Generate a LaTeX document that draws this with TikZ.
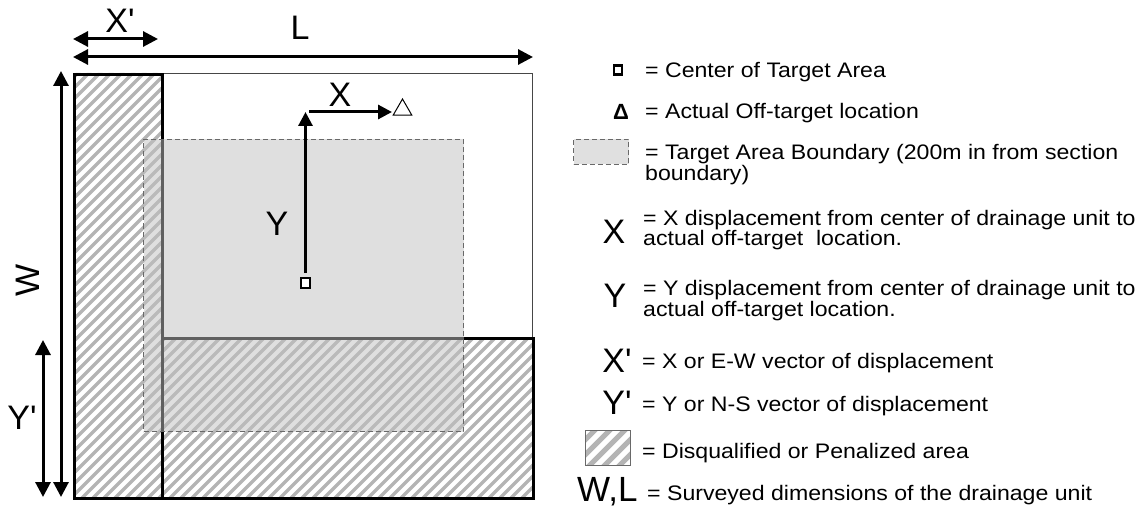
\documentclass[tikz,border=0pt]{standalone}
\usepackage{fontspec}
\setmainfont[FakeStretch=1.1]{Liberation Sans}
\newfontfamily\lblfont[Ligatures=TeXOff]{Liberation Sans}
\usetikzlibrary{arrows.meta,shapes.geometric}
\definecolor{hatchgray}{RGB}{180,180,180}
\definecolor{tgtgray}{RGB}{192,192,192}
\definecolor{lightfill}{RGB}{224,224,224}
\definecolor{dashgray}{RGB}{105,105,105}
\definecolor{framegray}{RGB}{70,70,70}
\tikzset{
  dimarrow/.style={line width=3pt, {Triangle[width=15pt,length=15pt]}-{Triangle[width=15pt,length=15pt]}},
  vecarrow/.style={line width=3pt, -{Triangle[width=14pt,length=14pt]}},
  diaglbl/.style={font=\lblfont\fontsize{34}{34}\selectfont, inner sep=0pt},
  legsym/.style={font=\lblfont\fontsize{34}{34}\selectfont, inner sep=0pt},
  legtxt/.style={font=\fontsize{21}{21}\selectfont, inner sep=0pt, anchor=base west},
  stripe/.style={hatchgray, line width=3.5pt},
  strip/.style={draw, line width=2.6pt, inner sep=0pt, anchor=north west},
  dashbox/.style={draw=dashgray, dash pattern=on 5pt off 3pt, line width=1pt, inner sep=0pt, anchor=north west},
}
\begin{document}
\begin{tikzpicture}[x=1pt,y=-1pt]
\useasboundingbox (0,0) rectangle (1146,508);
% outer frame
\node[draw=framegray, line width=1.2pt, inner sep=0pt, minimum width=459pt, minimum height=424pt, anchor=north west] (outer) at (73,73) {};
% hatching
\begin{scope}
  \clip (73,73) rectangle (161,497) (161,337) rectangle (532,497);
  \foreach \i in {-370,-359,...,530} \draw[stripe] (\i,510) -- ++(520,-520);
\end{scope}
\node[strip, minimum width=88pt, minimum height=424pt] (xstrip) at (73,73) {};
\node[strip, minimum width=371pt, minimum height=160pt] (ystrip) at (161,337) {};
% target area
\node[dashbox, fill=tgtgray, fill opacity=0.5, minimum width=320pt, minimum height=292pt] (target) at (143,139) {};
% centre and off-target
\node[draw, line width=1.8pt, fill=white, minimum width=9pt, minimum height=10pt, inner sep=0pt] (ctr) at (305.5,283) {};
\node[draw, line width=1pt, regular polygon, regular polygon sides=3, minimum size=21.4pt, inner sep=0pt] (tri) at (402.5,109.7) {};
\coordinate (ytip) at (305.5,112);
\coordinate (xstart) at (309,112);
\coordinate (xtip) at (392,112);
\draw[vecarrow] ([yshift=4pt]ctr.north) -- (ytip);
\draw[vecarrow] (xstart) -- (xtip);
\node[diaglbl] (lblX) at (340,95) {X};
\node[diaglbl] (lblY) at (277,224) {Y};
% dimension arrows
\coordinate (Lleft) at (73,57);
\coordinate (Lright) at (533,57);
\coordinate (Xpl) at (73,39);
\coordinate (Xpr) at (158,39);
\coordinate (Wtop) at (61,71);
\coordinate (Wbot) at (61,497);
\coordinate (Ypt) at (43,340);
\coordinate (Ypb) at (43,497);
\draw[dimarrow] (Lleft) -- (Lright);
\draw[dimarrow] (Xpl) -- (Xpr);
\draw[dimarrow] (Wtop) -- (Wbot);
\draw[dimarrow] (Ypt) -- (Ypb);
\node[diaglbl] (lblL) at (300,28) {L};
\node[diaglbl] (lblXp) at (120,21) {X'};
\node[diaglbl, rotate=90] (lblW) at (28,280) {W};
\node[diaglbl] (lblYp) at (22,418) {Y'};
% legend
\node[draw, line width=2.8pt, minimum width=8pt, minimum height=9pt, inner sep=0pt] (lsq) at (618,70) {};
\node[legtxt] (t1) at (645,78) {= Center of Target Area};
\node[font=\lblfont\bfseries\fontsize{22}{22}\selectfont, inner sep=0pt] (ldelta) at (621,112) {Δ};
\node[legtxt] (t2) at (645,119) {= Actual Off-target location};
\node[dashbox, fill=lightfill, minimum width=55pt, minimum height=25pt] (lbox) at (573,139) {};
\node[legtxt] (t3a) at (645,160) {= Target Area Boundary (200m in from section};
\node[legtxt] (t3b) at (645,181) {boundary)};
\node[legsym] (lX) at (614,232) {X};
\node[legtxt] (t4a) at (643,225) {= X displacement from center of drainage unit to};
\node[legtxt] (t4b) at (643,245) {actual off-target\ \ location.};
\node[legsym] (lY) at (615,296) {Y};
\node[legtxt] (t5a) at (643,295) {= Y displacement from center of drainage unit to};
\node[legtxt] (t5b) at (643,316) {actual off-target location.};
\node[legsym] (lXp) at (617,361) {X'};
\node[legtxt] (t6) at (642,368) {= X or E-W vector of displacement};
\node[legsym] (lYp) at (617,403) {Y'};
\node[legtxt] (t7) at (642,411) {= Y or N-S vector of displacement};
\begin{scope}
  \clip (585,430) rectangle (630,465);
  \foreach \i in {540,555,...,640} \draw[hatchgray, line width=5pt] (\i,470) -- ++(60,-60);
\end{scope}
\node[draw=dashgray, line width=1pt, minimum width=45pt, minimum height=35pt, inner sep=0pt, anchor=north west] (lhatch) at (585,430) {};
\node[legtxt] (t8) at (642,458) {= Disqualified or Penalized area};
\node[font=\lblfont\fontsize{35}{35}\selectfont, inner sep=0pt, anchor=base west] (lWL) at (577,501) {W,L};
\node[legtxt] (t9) at (647,500) {= Surveyed dimensions of the drainage unit};
\end{tikzpicture}
\end{document}
